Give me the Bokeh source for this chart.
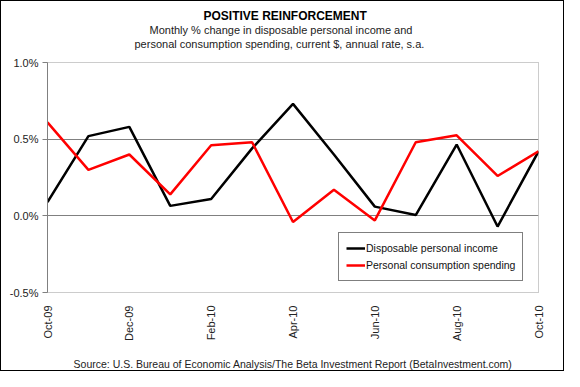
import math
from bokeh.plotting import figure
from bokeh.models import (FixedTicker, Title, Legend, LegendItem, ColumnDataSource)
from bokeh.embed import file_html
from bokeh.resources import INLINE

months = ["Oct-09", "Nov-09", "Dec-09", "Jan-10", "Feb-10", "Mar-10", "Apr-10",
          "May-10", "Jun-10", "Jul-10", "Aug-10", "Sep-10", "Oct-10"]
income = [0.09, 0.52, 0.58, 0.065, 0.11, 0.44, 0.73, 0.40, 0.06, 0.005, 0.465, -0.07, 0.42]
spending = [0.61, 0.30, 0.40, 0.14, 0.46, 0.48, -0.04, 0.17, -0.03, 0.48, 0.525, 0.26, 0.42]
y_ticks = [-0.5, 0.0, 0.5, 1.0]
y_labels = ["-0.5%", "0.0%", "0.5%", "1.0%"]
x_tick_idx = [0, 2, 4, 6, 8, 10, 12]
title_text = "POSITIVE REINFORCEMENT"
subtitle_lines = ["Monthly % change in disposable personal income and",
                  "personal consumption spending, current $, annual rate, s.a."]
source_text = "Source: U.S. Bureau of Economic Analysis/The Beta Investment Report (BetaInvestment.com)"

FONT = "Liberation Sans"
idx = list(range(len(months)))
src = ColumnDataSource(dict(x=idx, inc=income, spd=spending))

p = figure(width=564, height=371, output_backend="svg", toolbar_location=None,
           x_range=(0, len(months) - 1), y_range=(-0.5, 1.0),
           min_border_left=46, min_border_right=27, min_border_top=61, min_border_bottom=80)
p.styles = {"border": "1px solid #000000", "box-sizing": "border-box"}

p.outline_line_color = "#999999"
p.outline_line_dash = "1 1"
p.outline_line_width = 1

# grid
p.xgrid.visible = False
p.ygrid.ticker = FixedTicker(ticks=[0.0, 0.5])
p.ygrid.grid_line_color = "#808080"
p.ygrid.grid_line_width = 1

# y axis
p.yaxis.ticker = FixedTicker(ticks=y_ticks)
p.yaxis.major_label_overrides = {t: l for t, l in zip(y_ticks, y_labels)}
p.yaxis.axis_line_color = "#808080"
p.yaxis.major_tick_line_color = "#808080"
p.yaxis.major_tick_in = 0
p.yaxis.major_tick_out = 5
p.yaxis.minor_tick_line_color = None
p.yaxis.major_label_text_font = FONT
p.yaxis.major_label_text_font_size = "11px"
p.yaxis.major_label_text_color = "#222222"
p.yaxis.major_label_standoff = 4

# x axis (source note as its axis label)
p.xaxis.ticker = FixedTicker(ticks=x_tick_idx)
p.xaxis.major_label_overrides = {i: months[i] for i in x_tick_idx}
p.xaxis.major_label_orientation = math.pi / 2
p.xaxis.axis_line_color = None
p.xaxis.major_tick_line_color = None
p.xaxis.minor_tick_line_color = None
p.xaxis.major_label_text_font = FONT
p.xaxis.major_label_text_font_size = "11px"
p.xaxis.major_label_text_color = "#222222"
p.xaxis.major_label_standoff = 7
p.xaxis.axis_label = source_text
p.xaxis.axis_label_text_font = FONT
p.xaxis.axis_label_text_font_size = "10.5px"
p.xaxis.axis_label_text_font_style = "normal"
p.xaxis.axis_label_text_color = "#222222"
p.xaxis.axis_label_standoff = 14

r1 = p.line("x", "inc", source=src, line_color="#000000", line_width=2.5)
r2 = p.line("x", "spd", source=src, line_color="#ff0000", line_width=2.5)

legend = Legend(items=[LegendItem(label="Disposable personal income", renderers=[r1]),
                       LegendItem(label="Personal consumption spending", renderers=[r2])],
                location=(291, 11))
legend.border_line_color = "#000000"
legend.border_line_width = 1
legend.background_fill_color = "#ffffff"
legend.background_fill_alpha = 1
legend.label_text_font = FONT
legend.label_text_font_size = "10.5px"
legend.label_text_color = "#111111"
legend.glyph_width = 19
legend.glyph_height = 16
legend.label_height = 16
legend.label_standoff = 1
legend.spacing = 1
legend.padding = 7
legend.margin = 0
p.add_layout(legend, "center")

def make_title(text, offset, size="11px", style="normal", color="#222222", standoff=0):
    return Title(text=text, align="left", offset=offset, standoff=standoff,
                 text_font=FONT, text_font_size=size, text_font_style=style,
                 text_color=color)

# spacer between the frame and the subtitle block
p.add_layout(make_title(" ", 0, standoff=-1), "above")
p.add_layout(make_title(subtitle_lines[1], 87, standoff=0), "above")
p.add_layout(make_title(subtitle_lines[0], 102, standoff=0), "above")
p.add_layout(make_title(title_text, 156, size="12px", style="bold", color="#000000", standoff=-2), "above")

open("out.html", "w").write(file_html(p, INLINE))
